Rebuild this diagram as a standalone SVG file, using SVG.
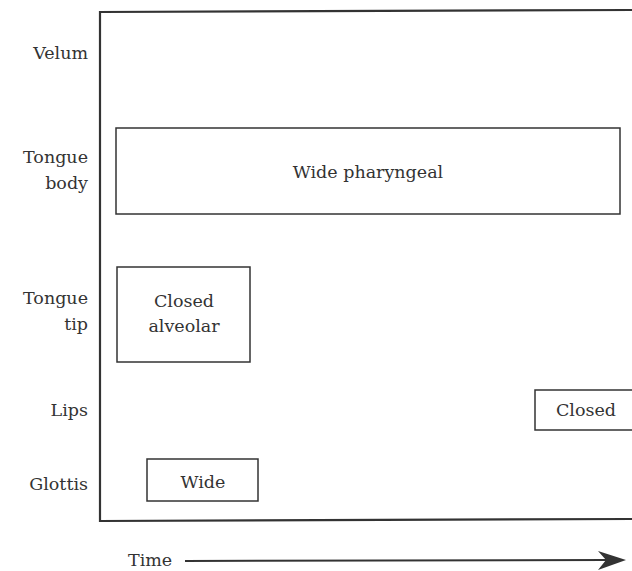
<svg xmlns="http://www.w3.org/2000/svg" width="632" height="571" viewBox="0 0 632 571">
<style>
.lbl{font-family:"DejaVu Serif","Liberation Serif",serif;font-size:17.5px;fill:#333}
.r{text-anchor:end}
.c{text-anchor:middle}
.box{fill:none;stroke:#333;stroke-width:1.5}
.frame{fill:none;stroke:#333;stroke-width:2.2}
</style>
<rect width="632" height="571" fill="#fff"/>
<g id="frame">
<polyline class="frame" points="632,10 100,12 100,521 632,519"/>
</g>
<g id="row-labels">
<text class="lbl r" x="88" y="59">Velum</text>
<text class="lbl r" x="88" y="163">Tongue</text>
<text class="lbl r" x="88" y="189">body</text>
<text class="lbl r" x="88" y="304">Tongue</text>
<text class="lbl r" x="88" y="330">tip</text>
<text class="lbl r" x="88" y="416">Lips</text>
<text class="lbl r" x="88" y="490">Glottis</text>
</g>
<g id="wide-pharyngeal">
<rect class="box" x="116" y="128" width="504" height="86"/>
<text class="lbl c" x="368" y="178">Wide pharyngeal</text>
</g>
<g id="closed-alveolar">
<rect class="box" x="117" y="267" width="133" height="95"/>
<text class="lbl c" x="184" y="307">Closed</text>
<text class="lbl c" x="184" y="332">alveolar</text>
</g>
<g id="closed-lips">
<polyline class="box" points="634,390 535,390 535,430 634,430"/>
<text class="lbl c" x="586" y="416">Closed</text>
</g>
<g id="wide-glottis">
<rect class="box" x="147" y="459" width="111" height="42"/>
<text class="lbl c" x="203" y="488">Wide</text>
</g>
<g id="connectors">
<text class="lbl" x="128" y="566">Time</text>
<line x1="185" y1="561" x2="606" y2="560" stroke="#333" stroke-width="2"/>
<path d="M598,551 L626,560 L598,570 L606,560 Z" fill="#333"/>
</g>
</svg>
